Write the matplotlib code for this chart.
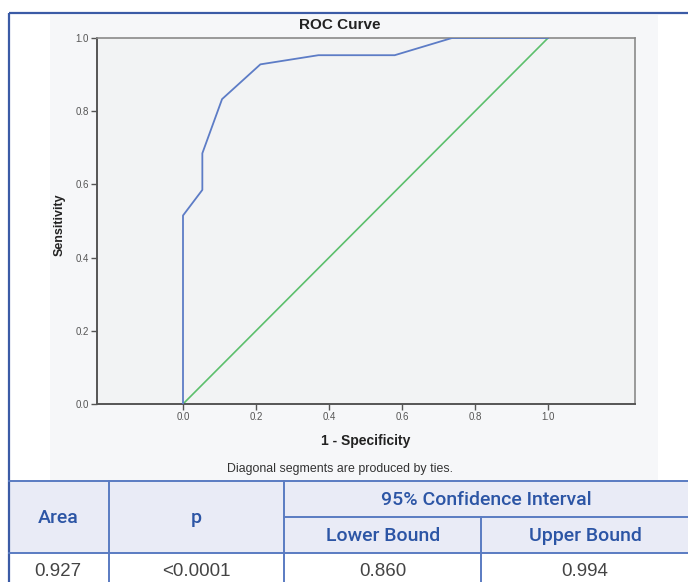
import matplotlib
matplotlib.use("Agg")
import matplotlib.pyplot as plt
from matplotlib.patches import Rectangle

plt.rcParams['font.family'] = ['Liberation Sans', 'DejaVu Sans']

# ROC data
fpr = [0.0, 0.0, 0.053, 0.053, 0.107, 0.212, 0.371, 0.580, 0.737, 1.0]
tpr = [0.0, 0.515, 0.585, 0.685, 0.833, 0.928, 0.953, 0.953, 1.0, 1.0]
ref_x = [0.0, 1.0]
ref_y = [0.0, 1.0]
ticks = [0.0, 0.2, 0.4, 0.6, 0.8, 1.0]
tick_labels = ["0.0", "0.2", "0.4", "0.6", "0.8", "1.0"]

# Table data
col_area = ["Area", "0.927"]
col_p = ["p", "<0.0001"]
ci_header = "95% Confidence Interval"
col_lower = ["Lower Bound", "0.860"]
col_upper = ["Upper Bound", "0.994"]

W, H = 688, 582
fig = plt.figure(figsize=(W / 100, H / 100), dpi=100)
fig.patch.set_facecolor("white")

# overlay axes in pixel coordinates
ov = fig.add_axes([0, 0, 1, 1], zorder=0)
ov.set_xlim(0, W)
ov.set_ylim(H, 0)
ov.axis("off")

# chart image background
ov.add_patch(Rectangle((50, 15), 608, 465, facecolor="#f6f7f9", edgecolor="none"))

# main axes
ax = fig.add_axes([97 / W, (H - 404) / H, (635 - 97) / W, (404 - 38) / H], zorder=2)
ax.set_facecolor("#f2f3f4")
ax.plot(ref_x, ref_y, color="#5cbf6c", lw=1.2, zorder=2)
ax.plot(fpr, tpr, color="#5d7cc6", lw=1.3, zorder=3)
ax.set_xlim((97 - 183) / 365, (635 - 183) / 365)
ax.set_ylim(0, 1.0)
ax.set_xticks(ticks)
ax.set_xticklabels(tick_labels)
ax.set_yticks(ticks)
ax.set_yticklabels(tick_labels)
ax.tick_params(axis="both", labelsize=7, colors="#555555", length=4, width=1.0,
               direction="out", pad=2)
for s in ["left", "bottom"]:
    ax.spines[s].set_color("#555555")
    ax.spines[s].set_linewidth(1.4)
for s in ["top", "right"]:
    ax.spines[s].set_color("#8a8a8a")
    ax.spines[s].set_linewidth(1.2)

# chart texts
fig.text(340 / W, 1 - 25 / H, "ROC Curve", ha="center", va="center",
         fontsize=11, fontweight="bold", color="#222222")
fig.text(366 / W, 1 - 441 / H, "1 - Specificity", ha="center", va="center",
         fontsize=10, fontweight="bold", color="#222222")
fig.text(60 / W, 1 - 225 / H, "Sensitivity", ha="center", va="center",
         rotation=90, fontsize=9, fontweight="bold", color="#222222")
fig.text(340 / W, 1 - 469 / H, "Diagonal segments are produced by ties.",
         ha="center", va="center", fontsize=8.9, color="#333333")

# outer border
bc = "#3b5ba6"
ov.plot([9, 9], [13, H], color=bc, lw=1.6, solid_capstyle="butt")
ov.plot([9, W], [13, 13], color=bc, lw=1.6, solid_capstyle="butt")

# table
hdr_bg = "#e9ebf6"
ov.add_patch(Rectangle((9, 481), W - 9, 72, facecolor=hdr_bg, edgecolor="none", zorder=1))
lc = "#5a7bc2"
lw = 1.4
ov.plot([9, W], [481, 481], color=lc, lw=lw, zorder=2)
ov.plot([284, W], [517, 517], color=lc, lw=lw, zorder=2)
ov.plot([9, W], [553, 553], color=lc, lw=lw, zorder=2)
ov.plot([109, 109], [481, H], color=lc, lw=lw, zorder=2)
ov.plot([284, 284], [481, H], color=lc, lw=lw, zorder=2)
ov.plot([481, 481], [517, H], color=lc, lw=lw, zorder=2)

hc = "#2c55a5"
dc = "#444444"
fs = 13.5
hkw = dict(ha="center", va="center", fontsize=14, color=hc,
           family=["Roboto", "Liberation Sans"], fontweight=500)
ov.text(58, 518, col_area[0], **hkw)
ov.text(196, 518, col_p[0], **hkw)
ov.text(486, 500, ci_header, **hkw)
ov.text(383, 536, col_lower[0], **hkw)
ov.text(585, 536, col_upper[0], **hkw)
ov.text(58, 572, col_area[1], ha="center", va="center", fontsize=fs, color=dc)
ov.text(196, 572, col_p[1], ha="center", va="center", fontsize=fs, color=dc)
ov.text(383, 572, col_lower[1], ha="center", va="center", fontsize=fs, color=dc)
ov.text(585, 572, col_upper[1], ha="center", va="center", fontsize=fs, color=dc)

fig.savefig("out.png", dpi=100)
